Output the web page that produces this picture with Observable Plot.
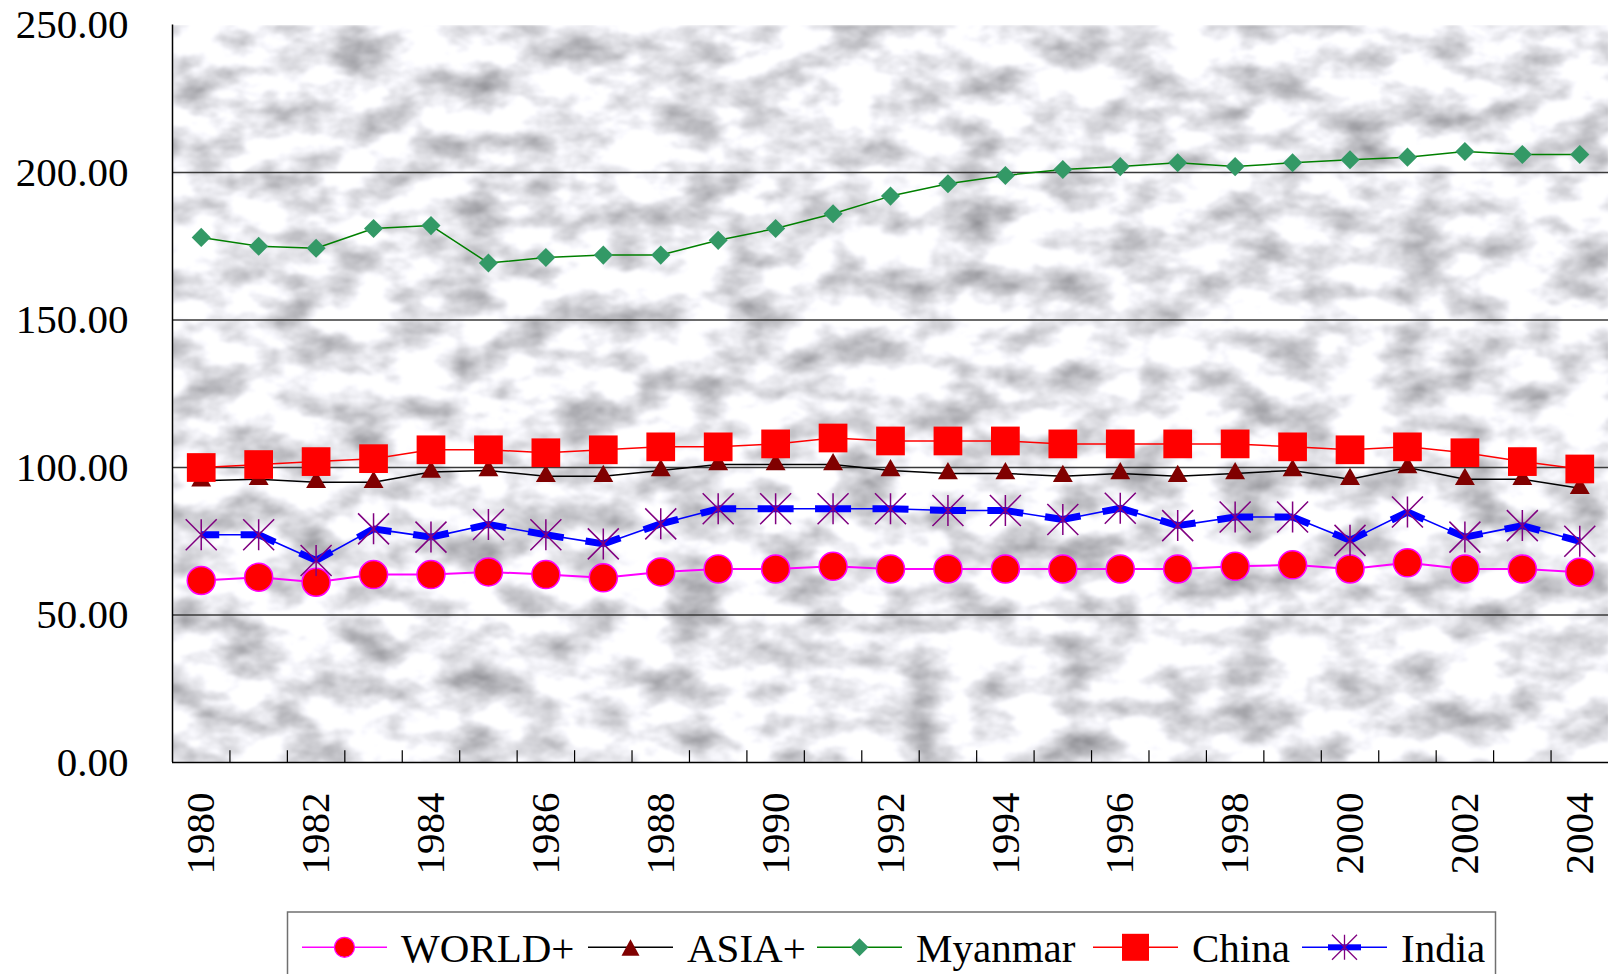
<!DOCTYPE html>
<html><head><meta charset="utf-8">
<script src="https://cdn.jsdelivr.net/npm/d3@7"></script>
<script src="https://cdn.jsdelivr.net/npm/@observablehq/plot@0.6"></script>
<style>
html,body{margin:0;padding:0;background:#fff;overflow:hidden;}
#wrap{position:relative;width:1608px;height:974px;overflow:hidden;}
#chart{position:absolute;left:0;top:0;}
#legend{position:absolute;left:0;top:900px;}
</style></head><body>
<div id="wrap"><div id="chart"></div><svg id="legend" width="1608" height="74"></svg></div>
<script>
// ---- data ----
const years   = [1980,1981,1982,1983,1984,1985,1986,1987,1988,1989,1990,1991,1992,1993,1994,1995,1996,1997,1998,1999,2000,2001,2002,2003,2004];
const world   = [61.7,62.8,61.1,63.7,63.7,64.6,63.7,62.6,64.6,65.6,65.6,66.5,65.6,65.6,65.6,65.6,65.6,65.6,66.5,67.0,65.6,67.7,65.6,65.6,64.5];
const asia    = [95.5,96,95,95,98.5,99,97,97,99,101,101,101,99,98,98,97,98,97,98,99,96,100,96,96,93];
const myanmar = [178,175,174.3,181,182,169.3,171.2,172,172,177,181,186,192,196.2,199,201,202,203.3,202,203.3,204.3,205.2,207.1,206.1,206.1];
const china   = [100,101,102,103,106,106,105,106,107,107,108,110,109,109,109,108,108,108,108,107,106,107,105,102,99.5];
const india   = [77.2,77.2,68.5,79.2,76.4,80.7,77.2,74.1,80.9,86,86,86,86,85.4,85.4,82.4,86.2,80.3,83.2,83.2,75.3,84.9,76.4,80.3,75.0];
const seriesNames = ["WORLD+","ASIA+","Myanmar","China","India"];
const yTicks  = [0,50,100,150,200,250];
const gridValues = [50,100,150,200];
const labelYears = years.filter(y => y % 2 === 0);

// derived tables
const rows = (arr) => years.map((year, i) => ({year, v: arr[i]}));
const W = rows(world), A = rows(asia), M = rows(myanmar), C = rows(china), I = rows(india);
const boundaries = years.slice(0, -1).map(y => y + 0.5);
const indiaSegs = years.slice(0, -1).map((y, i) => ({x1: y, y1: india[i], x2: years[i+1], y2: india[i+1]}));

const starSymbol = {
  draw(ctx, size) {
    const r = Math.sqrt(size / Math.PI);
    ctx.moveTo(-r, -r); ctx.lineTo(r, r);
    ctx.moveTo(-r, r); ctx.lineTo(r, -r);
    ctx.moveTo(0, -r); ctx.lineTo(0, r);
  }
};

const font = "'Liberation Serif', 'Times New Roman', serif";

const chart = Plot.plot({
  width: 1608, height: 912,
  marginLeft: 172, marginRight: 0, marginTop: 24.5, marginBottom: 150,
  x: {type: "linear", domain: [1979.5, 2004.5]},
  y: {domain: [0, 250]},
  style: {fontFamily: font, fontSize: "41px", background: "white", color: "#000", overflow: "visible"},
  marks: [
    Plot.frame({fill: "#e4e4e8", stroke: null}),
    Plot.ruleY(gridValues, {stroke: "#3a3a3a", strokeWidth: 1.3}),
    Plot.ruleX(boundaries, {y1: 0, y2: 4, stroke: "#000", strokeWidth: 1.2}),
    Plot.ruleX([1979.5], {stroke: "#000", strokeWidth: 1.5}),
    Plot.ruleY([0], {stroke: "#000", strokeWidth: 1.5}),
    Plot.axisY({ticks: yTicks, tickFormat: d3.format(".2f"), tickSize: 0, tickPadding: 44, fontSize: 41, label: null}),
    Plot.axisX({ticks: labelYears, tickFormat: d => String(d), tickSize: 0, tickPadding: 30, tickRotate: -90, fontSize: 41, label: null}),
    // WORLD+
    Plot.line(W, {x: "year", y: "v", stroke: "#ff00ff", strokeWidth: 2}),
    Plot.dot(W, {x: "year", y: "v", symbol: "circle", r: 14, fill: "#ff0000", stroke: "#ff00ff", strokeWidth: 1.5}),
    // ASIA+
    Plot.line(A, {x: "year", y: "v", stroke: "#000000", strokeWidth: 1.5}),
    Plot.dot(A, {x: "year", y: "v", symbol: "triangle", r: 7.4, fill: "#800000", stroke: "none"}),
    // Myanmar
    Plot.line(M, {x: "year", y: "v", stroke: "#008000", strokeWidth: 1.5}),
    Plot.dot(M, {x: "year", y: "v", symbol: "diamond2", r: 8.6, fill: "#339966", stroke: "none"}),
    // China
    Plot.line(C, {x: "year", y: "v", stroke: "#ff0000", strokeWidth: 1.5}),
    Plot.dot(C, {x: "year", y: "v", symbol: "square", r: 16.2, fill: "#ff0000", stroke: "none"}),
    // India
    Plot.line(I, {x: "year", y: "v", stroke: "#0000ff", strokeWidth: 1.6}),
    Plot.link(indiaSegs, {x1: "x1", y1: "y1", x2: "x2", y2: "y2", stroke: "#0000ff", strokeWidth: 7, strokeLinecap: "butt", className: "india-thick"}),
    Plot.dot(I, {x: "year", y: "v", symbol: starSymbol, r: 15.5, fill: "none", stroke: "#800080", strokeWidth: 1.5})
  ]
});
document.getElementById("chart").appendChild(chart);

// marble-like background texture on the frame
const ns = "http://www.w3.org/2000/svg";
const defs = document.createElementNS(ns, "defs");
defs.innerHTML = `<filter id="marble" x="0" y="0" width="1" height="1" color-interpolation-filters="sRGB">
<feTurbulence type="fractalNoise" baseFrequency="0.018 0.03" numOctaves="4" seed="11" result="t"/>
<feColorMatrix in="t" type="matrix" values="0.8 0 0 0 0.52  0.8 0 0 0 0.52  0.8 0 0 0 0.54  0 0 0 0 1" result="c"/>
<feGaussianBlur in="c" stdDeviation="1"/>
</filter>`;
chart.insertBefore(defs, chart.firstChild);
const fr = chart.querySelector('[aria-label="frame"]');
if (fr) fr.setAttribute("filter", "url(#marble)");

// thick blue pieces of the India line near each marker
chart.querySelectorAll('.india-thick path').forEach(p => {
  const L = p.getTotalLength();
  const d = 18;
  p.setAttribute("stroke-dasharray", `${d} ${Math.max(0, L - 2*d)} ${d} 0`);
});

// ---- legend (below the plot) ----
const lg = d3.select("#legend");
lg.append("rect").attr("x", 287.5).attr("y", 12).attr("width", 1208).attr("height", 90)
  .attr("fill", "white").attr("stroke", "#707070").attr("stroke-width", 1.5);
const ly = 47.3;
const items = [
  {name: seriesNames[0], x0: 302, line: "#ff00ff", mark: "circle"},
  {name: seriesNames[1], x0: 588, line: "#000000", mark: "triangle"},
  {name: seriesNames[2], x0: 817, line: "#008000", mark: "diamond"},
  {name: seriesNames[3], x0: 1093, line: "#ff0000", mark: "square"},
  {name: seriesNames[4], x0: 1302, line: "#0000ff", mark: "star"}
];
items.forEach(it => {
  const g = lg.append("g");
  const cx = it.x0 + 42.5;
  g.append("line").attr("x1", it.x0).attr("x2", it.x0 + 85).attr("y1", ly).attr("y2", ly)
    .attr("stroke", it.line).attr("stroke-width", 1.5);
  const t = `translate(${cx},${ly})`;
  if (it.mark === "circle") {
    g.append("circle").attr("cx", cx).attr("cy", ly).attr("r", 10).attr("fill", "#ff0000").attr("stroke", "#ff00ff").attr("stroke-width", 1.2);
  } else if (it.mark === "triangle") {
    g.append("path").attr("transform", `translate(${cx},${ly + 1})`).attr("d", "M0,-9L9,7.5L-9,7.5Z").attr("fill", "#800000");
  } else if (it.mark === "diamond") {
    g.append("path").attr("transform", t).attr("d", "M0,-9L9,0L0,9L-9,0Z").attr("fill", "#339966");
  } else if (it.mark === "square") {
    g.append("rect").attr("x", cx - 13.5).attr("y", ly - 13.5).attr("width", 27).attr("height", 27).attr("fill", "#ff0000");
  } else {
    g.append("rect").attr("x", cx - 16.5).attr("y", ly - 3).attr("width", 33).attr("height", 6).attr("fill", "#0000ff");
    g.append("path").attr("transform", t).attr("d", "M-12.5,-12.5L12.5,12.5M-12.5,12.5L12.5,-12.5M0,-12.5L0,12.5")
      .attr("stroke", "#800080").attr("stroke-width", 1.3).attr("fill", "none");
  }
  g.append("text").attr("x", it.x0 + 85 + 14).attr("y", 61.7).attr("font-family", font).attr("font-size", 41)
    .attr("fill", "#000").text(it.name);
});
</script></body></html>
